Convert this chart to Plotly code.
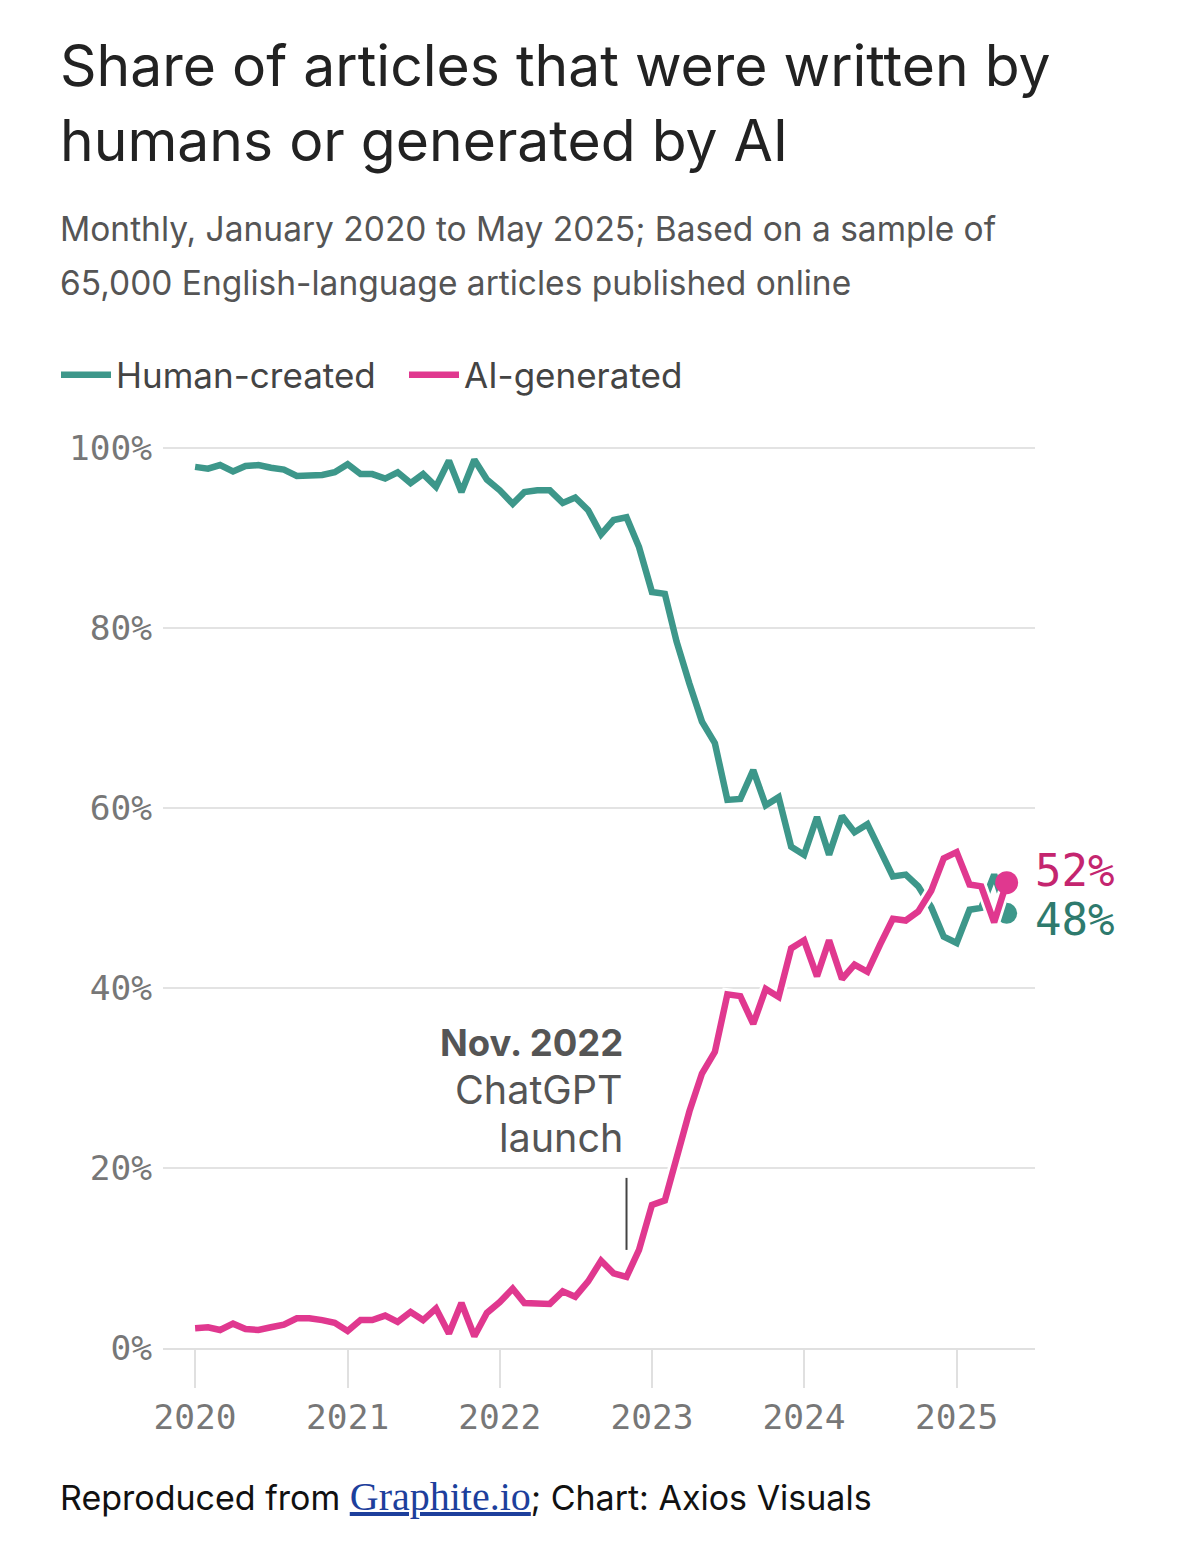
import pandas as pd
import plotly.graph_objects as go

# ---- data ----
months = pd.date_range("2020-01-01", periods=65, freq="MS")
human_created = [97.9, 97.7, 98.1, 97.4, 98.0, 98.1, 97.8, 97.6, 96.9, 96.9,
                 97.0, 97.3, 98.2, 97.1, 97.1, 96.6, 97.3, 96.1, 97.1, 95.7,
                 98.6, 95.1, 98.7, 96.5, 95.3, 93.8, 95.1, 95.3, 95.3, 93.9,
                 94.5, 93.1, 90.4, 92.0, 92.3, 89.0, 84.0, 83.8, 78.5, 73.8,
                 69.6, 67.2, 60.9, 61.0, 64.2, 60.3, 61.2, 55.7, 54.8, 59.0,
                 54.8, 59.1, 57.3, 58.2, 55.3, 52.4, 52.6, 51.3, 49.0, 45.7,
                 45.0, 48.7, 48.9, 52.6, 48.3]
ai_generated = [2.2, 2.3, 2.0, 2.7, 2.1, 2.0, 2.3, 2.6, 3.3, 3.3,
                3.1, 2.8, 1.9, 3.1, 3.1, 3.6, 2.9, 4.0, 3.1, 4.4,
                1.6, 5.0, 1.3, 3.9, 5.1, 6.6, 5.0, 4.9, 4.9, 6.3,
                5.7, 7.4, 9.7, 8.3, 7.9, 10.9, 15.9, 16.4, 21.4, 26.3,
                30.5, 32.9, 39.3, 39.1, 36.0, 39.9, 39.0, 44.4, 45.3, 41.3,
                45.3, 41.0, 42.6, 41.8, 44.8, 47.7, 47.5, 48.5, 50.8, 54.4,
                55.1, 51.5, 51.3, 47.3, 51.7]
y_ticks = [0, 20, 40, 60, 80, 100]
y_tick_labels = ["0%", "20%", "40%", "60%", "80%", "100%"]
year_ticks = ["2020-01-01", "2021-01-01", "2022-01-01", "2023-01-01", "2024-01-01", "2025-01-01"]
year_labels = ["2020", "2021", "2022", "2023", "2024", "2025"]
event_date = "2022-11-01"
event_label = ["Nov. 2022", "ChatGPT", "launch"]
end_labels = ["52%", "48%"]

TEAL = "#3d978a"
PINK = "#e0388f"
TEAL_TXT = "#2e7a6d"
PINK_TXT = "#c4256f"
SANS = "Inter, Roboto, sans-serif"
MONO = "DejaVu Sans Mono, monospace"

# page offset (body margin) compensation
OFF = 8
W, H = 1179 - OFF, 1561 - OFF
L, R, T, B = 163, 1035, 439, 1348   # page coordinates of plot area


def px_x(px):
    return (px - L) / (R - L)


def px_y(py):
    return (B - py) / (B - T)


fig = go.Figure()
fig.add_trace(go.Scatter(x=months, y=human_created, mode="lines", name="Human-created",
                         line=dict(color=TEAL, width=6.5), hoverinfo="skip"))
fig.add_trace(go.Scatter(x=[months[-1]], y=[human_created[-1]], mode="markers", showlegend=False,
                         marker=dict(color=TEAL, size=21), hoverinfo="skip"))
# white halo under AI line
fig.add_trace(go.Scatter(x=months, y=ai_generated, mode="lines", showlegend=False,
                         line=dict(color="white", width=12), hoverinfo="skip"))
fig.add_trace(go.Scatter(x=months, y=ai_generated, mode="lines", name="AI-generated",
                         line=dict(color=PINK, width=6.5), hoverinfo="skip"))
fig.add_trace(go.Scatter(x=[months[-1]], y=[ai_generated[-1]], mode="markers", showlegend=False,
                         marker=dict(color=PINK, size=23), hoverinfo="skip"))

annotations = []
# title / subtitle
for txt, py, size, col in [
    ("Share of articles that were written by", 65, 57, "#222222"),
    ("humans or generated by AI", 140, 57, "#222222"),
    ("Monthly, January 2020 to May 2025; Based on a sample of", 229, 33.5, "#555555"),
    ("65,000 English-language articles published online", 283, 33.5, "#555555"),
]:
    annotations.append(dict(text=txt, xref="paper", yref="paper", x=px_x(58), y=px_y(py),
                            xanchor="left", yanchor="middle", showarrow=False,
                            font=dict(family=SANS, size=size, color=col)))
# footer
annotations.append(dict(
    text="Reproduced from <span style='font-family:Liberation Serif, serif;font-size:40px;"
         "color:#1d3f9c;text-decoration:underline'>Graphite.io</span>; Chart: Axios Visuals",
    xref="paper", yref="paper", x=px_x(58), y=px_y(1496), xanchor="left", yanchor="middle",
    showarrow=False, font=dict(family=SANS, size=34, color="#111111")))
# event annotation
for i, (txt, py) in enumerate(zip(event_label, [1043, 1090, 1138])):
    annotations.append(dict(text=("<b>%s</b>" % txt) if i == 0 else txt,
                            xref="x", yref="paper", x=event_date, y=px_y(py),
                            xanchor="right", yanchor="middle", xshift=-2, showarrow=False,
                            font=dict(family=SANS, size=36.5 if i == 0 else 39.5,
                                      color="#555555")))
# end labels
annotations.append(dict(text=end_labels[0], xref="x", yref="y", x=months[-1], y=53.1,
                        xanchor="left", yanchor="middle", xshift=26, showarrow=False,
                        font=dict(family=MONO, size=44, color=PINK_TXT)))
annotations.append(dict(text=end_labels[1], xref="x", yref="y", x=months[-1], y=47.6,
                        xanchor="left", yanchor="middle", xshift=26, showarrow=False,
                        font=dict(family=MONO, size=44, color=TEAL_TXT)))

shapes = [dict(type="line", xref="x", yref="y", x0=event_date, x1=event_date, y0=10.9, y1=18.9,
               line=dict(color="#444444", width=2))]

fig.update_layout(
    width=W, height=H,
    margin=dict(l=L - OFF, r=W - (R - OFF), t=T - OFF, b=H - (B - OFF), pad=0),
    paper_bgcolor="white", plot_bgcolor="white",
    showlegend=True,
    legend=dict(orientation="h", x=px_x(56), y=px_y(375), xanchor="left", yanchor="middle",
                font=dict(family=SANS, size=35, color="#444444"), itemwidth=50,
                entrywidth=283, entrywidthmode="pixels",
                bgcolor="rgba(0,0,0,0)", traceorder="normal"),
    annotations=annotations,
    shapes=shapes,
    xaxis=dict(type="date", range=["2019-10-16", "2025-07-08"], tickvals=year_ticks,
               ticktext=year_labels, showgrid=False, zeroline=False,
               showline=True, linecolor="#e0e0e0", linewidth=2,
               ticks="outside", ticklen=38, tickwidth=2, tickcolor="#e0e0e0",
               tickfont=dict(family=MONO, size=34.5, color="#777777")),
    yaxis=dict(range=[0, 101], tickvals=y_ticks, ticktext=y_tick_labels,
               showgrid=True, gridcolor="#e3e3e3", gridwidth=2, zeroline=False,
               showline=False, ticks="", ticklabelstandoff=10,
               tickfont=dict(family=MONO, size=34.5, color="#777777")),
)

fig.write_html("out.html")
